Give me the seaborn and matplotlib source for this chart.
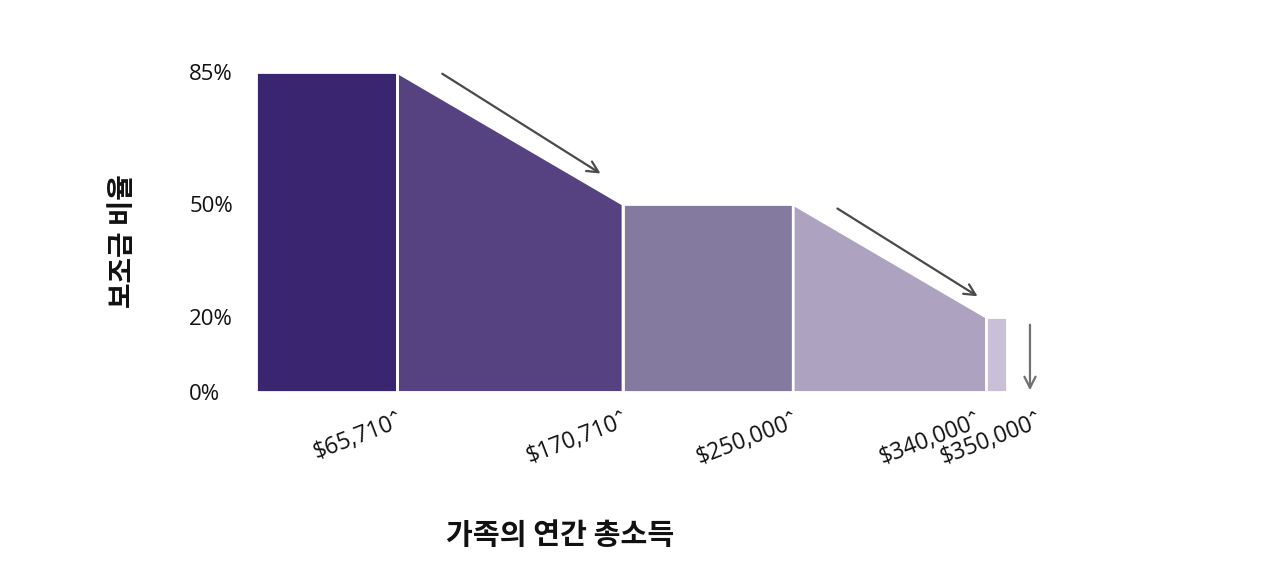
import numpy as np
import pandas as pd
import matplotlib
matplotlib.use("Agg")
import matplotlib.pyplot as plt
import matplotlib.transforms as mtransforms
import seaborn as sns

# data: income breakpoints and subsidy rates
income_start = [0, 65710, 170710, 250000, 340000]
income_end = [65710, 170710, 250000, 340000, 350000]
rate_start = [85, 85, 50, 50, 20]
rate_end = [85, 50, 50, 20, 20]
seg_colors = ["#3a2670", "#574281", "#847a9f", "#ada3c0", "#c9c0d8"]

y_ticks = [0, 20, 50, 85]
y_labels = ["0%", "20%", "50%", "85%"]
x_ticks = [65710, 170710, 250000, 340000, 350000]
x_labels = ["$65,710ˆ", "$170,710ˆ", "$250,000ˆ", "$340,000ˆ", "$350,000ˆ"]

x_title = "가족의 연간 총소득"
y_title = "보조금 비율"

sns.set_theme(style="white")
plt.rcParams['font.family'] = ['Open Sans', 'Noto Sans CJK KR', 'DejaVu Sans']

fig = plt.figure(figsize=(12.8, 5.85), dpi=100)
ax = fig.add_axes([0.2, 0.33, 0.6206, 0.579])

df = pd.DataFrame({"x0": income_start, "x1": income_end,
                   "y0": rate_start, "y1": rate_end, "c": seg_colors})

for _, r in df.iterrows():
    ax.fill_between([r.x0, r.x1], [r.y0, r.y1], 0, color=r.c,
                    edgecolor="white", linewidth=2)

# arrows following the sloped parts, and the drop at the end
def slope_arrow(i, f0, f1, off0, off1):
    x0, x1, y0, y1 = income_start[i], income_end[i], rate_start[i], rate_end[i]
    xa, xb = x0 + f0 * (x1 - x0), x0 + f1 * (x1 - x0)
    ya = y0 + f0 * (y1 - y0) + off0
    yb = y0 + f1 * (y1 - y0) + off1
    ax.annotate("", xy=(xb, yb), xytext=(xa, ya),
                arrowprops=dict(arrowstyle="->", color="#4a4a4a", lw=1.6,
                                mutation_scale=20))

slope_arrow(1, 0.19, 0.913, 6.6, 4.6)
slope_arrow(3, 0.219, 0.969, 5.7, 4.1)
ax.annotate("", xy=(income_end[4] + 10500, -0.3), xytext=(income_end[4] + 10500, rate_end[4] - 1.4),
            arrowprops=dict(arrowstyle="->", color="#707070", lw=1.6, mutation_scale=20),
            annotation_clip=False)

ax.set_xlim(0, 370000)
ax.set_ylim(0, 90)
ax.set_yticks(y_ticks)
ax.set_yticklabels(y_labels, fontsize=16, color="#111111")
for t in ax.get_yticklabels():
    t.set_ha("left")
ax.tick_params(axis="y", pad=48, length=0)
ax.set_xticks(x_ticks)
ax.set_xticklabels(x_labels, fontsize=16.5, color="#111111", rotation=21,
                   ha="right", va="top", rotation_mode="anchor")
ax.tick_params(axis="x", pad=12, length=0)
# the two last labels are spread apart, as in the original
for lab, dx in zip(ax.get_xticklabels()[-2:], [-10, 30]):
    lab.set_transform(lab.get_transform() + mtransforms.ScaledTranslation(dx / 100, 0, fig.dpi_scale_trans))
for s in ax.spines.values():
    s.set_visible(False)

fig.text(0.4375, 0.085, x_title, fontsize=21, fontweight="bold", color="#111111",
         ha="center", va="center", family=['Noto Sans CJK KR', 'DejaVu Sans'])
fig.text(0.096, 0.587, y_title, fontsize=20, fontweight="bold", rotation=90, color="#111111",
         ha="center", va="center", family=['Noto Sans CJK KR', 'DejaVu Sans'])

fig.savefig("out.png", dpi=100, facecolor="white")
